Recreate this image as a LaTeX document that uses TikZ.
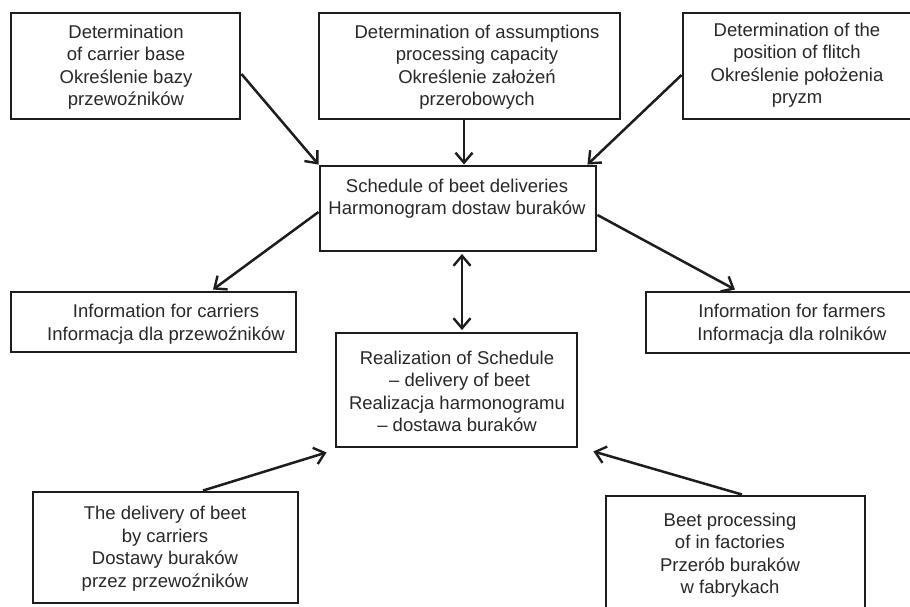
\documentclass[tikz,border=0pt]{standalone}
\usepackage{fontspec}
\setmainfont{Liberation Sans}
\usetikzlibrary{arrows.meta,calc}
\definecolor{ink}{HTML}{1E1C1C}
\definecolor{txtc}{HTML}{2A2727}
\begin{document}
\begin{tikzpicture}[x=1pt,y=-1pt,
  boxst/.style={draw=ink, line width=2.9pt, rectangle, inner sep=0pt},
  txt/.style={align=center, text=txtc, font=\fontsize{18.5}{22.5}\selectfont, inner sep=0pt},
  tip/.style={},
  arr/.style={draw=ink, line width=2.5pt, -{Straight Barb[length=10pt,width=17pt,line width=2.4pt]}},
  darr/.style={draw=ink, line width=2.5pt, {Straight Barb[length=10pt,width=17pt,line width=2.4pt]}-{Straight Barb[length=10pt,width=17pt,line width=2.4pt]}}
]
\useasboundingbox (0,0) rectangle (910,607);
\clip (0,0) rectangle (910,607);
\fill[white] (0,0) rectangle (910,607);

% boxes
\node[boxst, minimum width=229pt, minimum height=106pt] (b1) at (125.5,66) {};
\node[txt] (b1t) at (126,67) {Determination\\of carrier base\\Określenie bazy\\przewoźników};

\node[boxst, minimum width=301pt, minimum height=106pt] (b2) at (469.5,66) {};
\node[txt] (b2t) at (477,67) {Determination of assumptions\\processing capacity\\Określenie założeń\\przerobowych};

\node[boxst, minimum width=228pt, minimum height=106pt] (b3) at (797,66) {};
\node[txt] (b3t) at (797,65) {Determination of the\\position of flitch\\Określenie położenia\\pryzm};

\node[boxst, minimum width=276pt, minimum height=85pt] (sch) at (458,208.5) {};
\node[txt] (scht) at (457,198.5) {Schedule of beet deliveries\\Harmonogram dostaw buraków};

\node[boxst, minimum width=285pt, minimum height=60pt] (car) at (153.5,322) {};
\node[txt] (cart) at (166,324) {Information for carriers\\Informacja dla przewoźników};

\node[boxst, minimum width=292pt, minimum height=61pt] (farm) at (792,322.5) {};
\node[txt] (farmt) at (792,324) {Information for farmers\\Informacja dla rolników};

\node[boxst, minimum width=241pt, minimum height=114pt] (real) at (456.5,390) {};
\node[txt] (realt) at (457,391.5) {Realization of Schedule\\\ – delivery of beet\\Realizacja harmonogramu\\– dostawa buraków};

\node[boxst, minimum width=265pt, minimum height=111pt] (del) at (165.5,547.5) {};
\node[txt] (delt) at (165,548.5) {The delivery of beet\\by carriers\\Dostawy buraków\\przez przewoźników};

\node[boxst, minimum width=259pt, minimum height=118pt] (proc) at (735.5,555) {};
\node[txt] (proct) at (730,555) {Beet processing\\of in factories\\Przerób buraków\\w fabrykach};

% connectors
\draw[arr] ($(b1.east)+(0,8)$) -- ($(sch.north west)+(0,0)$);
\draw[arr] ($(b2.south)+(-5.5,0)$) -- ($(sch.north)+(6,0)$);
\draw[arr] ($(b3.west)+(0,9)$) -- ($(sch.north east)+(-10,0)$);
\draw[arr] ($(sch.west)+(0,3.5)$) -- ($(car.north)+(59.5,-1)$);
\draw[arr] ($(sch.east)+(0,6.5)$) -- ($(farm.north)+(-57,-1)$);
\draw[darr] ($(sch.south)+(4,1.5)$) -- ($(real.north)+(5.5,-1.5)$);
\draw[arr] ($(del.north)+(37.5,0)$) -- ($(real.south west)+(-8,4)$);
\draw[arr] ($(proc.north)+(6.5,0)$) -- ($(real.south east)+(15,3)$);
\end{tikzpicture}
\end{document}
